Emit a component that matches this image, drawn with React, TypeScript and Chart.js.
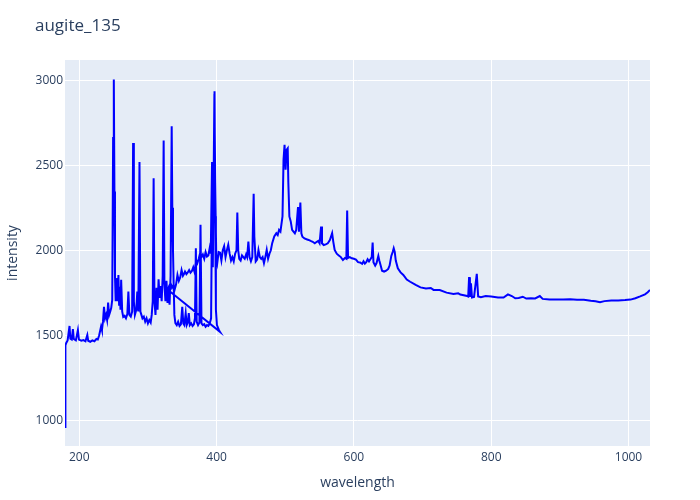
import React, { useEffect, useRef } from "react";
import { Chart, registerables } from "chart.js";

Chart.register(...registerables);

const TITLE = "augite_135";
const X_TITLE = "wavelength";
const Y_TITLE = "intensity";
const X_TICKS = [200, 400, 600, 800, 1000];
const Y_TICKS = [1000, 1500, 2000, 2500, 3000];
const X_RANGE = [179.2, 1031.3];
const Y_RANGE = [848.7, 3119.5];

// first spectrometer channel (UV)
const ch1Wavelength = [
  179.2, 179.8, 181, 183, 185.8, 187, 189, 190.7, 192, 195, 198, 199.5, 203, 206, 209, 211.7, 213, 216, 219, 222,
  225, 227, 229, 231.7, 233, 234.5, 236, 237.5, 239, 240.5, 242, 243.5, 245, 246.5, 248, 249.3, 250.3, 251.2, 252, 253,
  254, 255, 256, 257, 258, 259, 260, 261, 262.5, 264, 266, 268, 270, 271.5, 273, 275, 277, 278.4, 279.5, 281,
  283, 284.5, 286, 287.7, 289, 290.5, 292, 294, 296, 298, 300, 302, 304, 305.5, 307, 308.3, 309.5, 311, 312.5, 314,
  315.5, 317, 318.5, 320, 321.5, 322.9, 324, 325.5, 327, 328.5, 330, 331.5, 333, 334.6, 335.5, 336.5, 337.5, 338.5, 340, 342,
  344, 346, 348, 350, 351.5, 353, 355, 356.5, 358, 359.5, 361, 363, 365, 367, 368.5, 369.8, 371, 373, 375, 376.6,
  378, 380, 382, 384, 386, 388, 390, 392, 393.4, 394.5, 396.2, 397, 398, 399, 400.5, 402, 403.5, 405,
];
const ch1Intensity = [
  960, 1440, 1455, 1470, 1555, 1480, 1475, 1537, 1478, 1470, 1531, 1475, 1468, 1472, 1465, 1502, 1468, 1462, 1470, 1465,
  1478, 1475, 1500, 1551, 1530, 1580, 1667, 1600, 1620, 1590, 1692, 1620, 1639, 1660, 1708, 2660, 3005, 2346, 1850, 1700,
  1780, 1836, 1700, 1855, 1680, 1786, 1650, 1826, 1640, 1608, 1615, 1600, 1625, 1757, 1620, 1610, 1640, 2631, 1700, 1620,
  1650, 1757, 1640, 2520, 1640, 1620, 1600, 1610, 1580, 1600, 1570, 1590, 1575, 1620, 1700, 2424, 1700, 1620, 1780, 1650,
  1830, 1720, 1790, 1700, 1850, 2646, 1800, 1700, 1820, 1690, 1760, 1680, 1850, 2729, 2250, 2000, 1800, 1620, 1572, 1560,
  1580, 1555, 1565, 1668, 1570, 1560, 1630, 1560, 1575, 1630, 1560, 1570, 1555, 1565, 1600, 2012, 1580, 1560, 1575, 2150,
  1570, 1560, 1565, 1550, 1560, 1555, 1570, 1600, 2280, 1900, 2600, 2935, 2200, 1650, 1560, 1545, 1530, 1520,
];

// second spectrometer channel (VIS/NIR)
const ch2Wavelength = [
  329.3, 331, 333, 335, 337, 339, 341, 343, 345, 347, 349, 351, 352.5, 354, 356, 358, 360, 362, 364, 366,
  368, 370, 372, 374, 376, 378, 380, 382, 384, 386, 388, 390, 391.5, 393.4, 395, 396.8, 398, 399.5, 401, 403,
  405, 407, 409, 411, 413, 415, 417, 419, 421, 423, 425, 427, 429, 430.2, 431.5, 433, 435, 437, 439, 441,
  443, 444.5, 446.3, 448, 450, 452, 454, 455, 457, 459, 461, 463, 465, 467, 469, 471, 473, 475, 477, 479,
  481, 484, 487, 489, 491, 493, 496, 497.5, 499, 500.5, 502, 503.6, 504.5, 506, 508, 510, 512, 514, 516, 518.6,
  520, 522, 523.5, 525, 528, 531, 534, 537, 540, 543, 546, 548, 550, 552.2, 553.5, 556, 559, 562, 565, 568.3,
  570, 572, 575, 578, 581, 584, 587, 589, 590.2, 591.5, 594, 597, 600, 603, 606, 609, 612, 614, 616, 618,
  620, 622, 624.5, 626, 627.3, 628.5, 631, 633, 635.6, 637, 639, 641, 644, 647, 650, 652, 654.5, 656.5, 658, 659.5,
  661, 664, 668, 672, 677, 682, 690, 697, 705, 712, 716, 725, 735, 745, 752, 755, 765, 766.5, 767.8, 769,
  770.5, 772, 775, 779, 781, 785, 792, 800, 810, 818, 824.4, 830, 835, 840, 846, 851, 858, 864, 870.8, 875,
  885, 895, 905, 915, 925, 935, 945, 952, 958.5, 965, 975, 985, 995, 1003, 1010, 1017, 1024, 1028, 1031.3,
];
const ch2Intensity = [
  1767, 1790, 1806, 1780, 1795, 1770, 1800, 1855, 1820, 1840, 1884, 1850, 1860, 1875, 1860, 1870, 1884, 1868, 1878, 1900,
  1870, 1943, 1924, 1950, 1983, 1960, 1975, 1950, 1990, 1963, 1970, 2014, 1980, 2520, 2100, 2920, 2400, 1960, 1925, 1990,
  1986, 1940, 2000, 2024, 1960, 2000, 2032, 1980, 1940, 1960, 1935, 1980, 2000, 2222, 2000, 1950, 1940, 1970, 1960, 1950,
  1975, 1960, 2051, 1960, 1935, 1960, 2332, 2080, 1934, 1945, 2002, 1960, 1950, 1960, 1924, 1960, 2002, 1950, 1980, 2000,
  2042, 2081, 2100, 2090, 2120, 2110, 2200, 2532, 2621, 2474, 2591, 2600, 2400, 2199, 2170, 2120, 2110, 2100, 2120, 2254,
  2110, 2281, 2100, 2080, 2070, 2065, 2061, 2055, 2050, 2041, 2050, 2055, 2041, 2140, 2041, 2031, 2035, 2041, 2060, 2101,
  2050, 2002, 1980, 1970, 1960, 1943, 1955, 1950, 2234, 1955, 1960, 1953, 1950, 1945, 1930, 1928, 1920, 1935, 1922, 1930,
  1947, 1935, 1950, 1960, 2045, 1930, 1910, 1925, 1967, 1940, 1910, 1880, 1875, 1880, 1890, 1910, 1967, 1990, 2012, 1990,
  1940, 1894, 1870, 1855, 1828, 1815, 1796, 1782, 1775, 1778, 1767, 1766, 1751, 1743, 1747, 1740, 1731, 1728, 1842, 1725,
  1806, 1723, 1726, 1861, 1728, 1724, 1731, 1728, 1723, 1722, 1741, 1731, 1718, 1720, 1727, 1716, 1718, 1717, 1731, 1714,
  1710, 1711, 1710, 1712, 1709, 1709, 1703, 1700, 1694, 1701, 1705, 1705, 1707, 1710, 1718, 1729, 1741, 1753, 1767,
];

const FONT = "'Open Sans', 'Noto Sans', sans-serif";
const TEXT_COLOR = "#2a3f5f";

const decorPlugin = {
  id: "decor",
  beforeDraw(chart: any) {
    const { ctx, chartArea } = chart;
    ctx.save();
    ctx.fillStyle = "#ffffff";
    ctx.fillRect(0, 0, chart.width, chart.height);
    ctx.fillStyle = "#E5ECF6";
    ctx.fillRect(chartArea.left, chartArea.top, chartArea.right - chartArea.left, chartArea.bottom - chartArea.top);
    ctx.restore();
  },
  afterDraw(chart: any) {
    const { ctx, chartArea } = chart;
    ctx.save();
    ctx.fillStyle = TEXT_COLOR;
    ctx.font = `17px ${FONT}`;
    ctx.textAlign = "left";
    ctx.textBaseline = "alphabetic";
    ctx.fillText(TITLE, 35, 31);
    ctx.font = `14px ${FONT}`;
    ctx.textAlign = "center";
    ctx.textBaseline = "middle";
    ctx.fillText(X_TITLE, (chartArea.left + chartArea.right) / 2, 483);
    ctx.translate(13, (chartArea.top + chartArea.bottom) / 2);
    ctx.rotate(-Math.PI / 2);
    ctx.fillText(Y_TITLE, 0, 0);
    ctx.restore();
  },
};

export default function App() {
  const ref = useRef<HTMLCanvasElement>(null);
  useEffect(() => {
    if (!ref.current) return;
    const points = [
      ...ch1Wavelength.map((x, i) => ({ x, y: ch1Intensity[i] })),
      ...ch2Wavelength.map((x, i) => ({ x, y: ch2Intensity[i] })),
    ];
    const chart = new Chart(ref.current, {
      type: "line",
      data: {
        datasets: [
          {
            data: points,
            borderColor: "#0000ff",
            borderWidth: 2,
            pointRadius: 0,
            tension: 0,
            fill: false,
          },
        ],
      },
      options: {
        animation: false,
        responsive: false,
        devicePixelRatio: 1,
        layout: { padding: { left: 0, right: 50, top: 60, bottom: 0 } },
        plugins: { legend: { display: false }, tooltip: { enabled: false }, title: { display: false } },
        scales: {
          x: {
            type: "linear",
            min: X_RANGE[0],
            max: X_RANGE[1],
            afterBuildTicks: (s: any) => {
              s.ticks = X_TICKS.map((v) => ({ value: v }));
            },
            afterFit: (s: any) => {
              s.height = 54;
            },
            grid: { color: "#ffffff", lineWidth: 1, drawTicks: false },
            border: { display: false },
            ticks: {
              color: TEXT_COLOR,
              font: { family: FONT, size: 12 },
              padding: 4,
              maxRotation: 0,
              autoSkip: false,
              callback: (v: any) => String(v),
            },
          },
          y: {
            type: "linear",
            min: Y_RANGE[0],
            max: Y_RANGE[1],
            afterBuildTicks: (s: any) => {
              s.ticks = Y_TICKS.map((v) => ({ value: v }));
            },
            afterFit: (s: any) => {
              s.width = 65;
            },
            grid: { color: "#ffffff", lineWidth: 1, drawTicks: false },
            border: { display: false },
            ticks: {
              color: TEXT_COLOR,
              font: { family: FONT, size: 12 },
              padding: 2,
              autoSkip: false,
              callback: (v: any) => String(v),
            },
          },
        },
      },
      plugins: [decorPlugin],
    });
    return () => chart.destroy();
  }, []);
  return (
    <div style={{ position: "absolute", left: 0, top: 0, width: 700, height: 500 }}>
      <canvas ref={ref} width={700} height={500} style={{ width: 700, height: 500 }} />
    </div>
  );
}
